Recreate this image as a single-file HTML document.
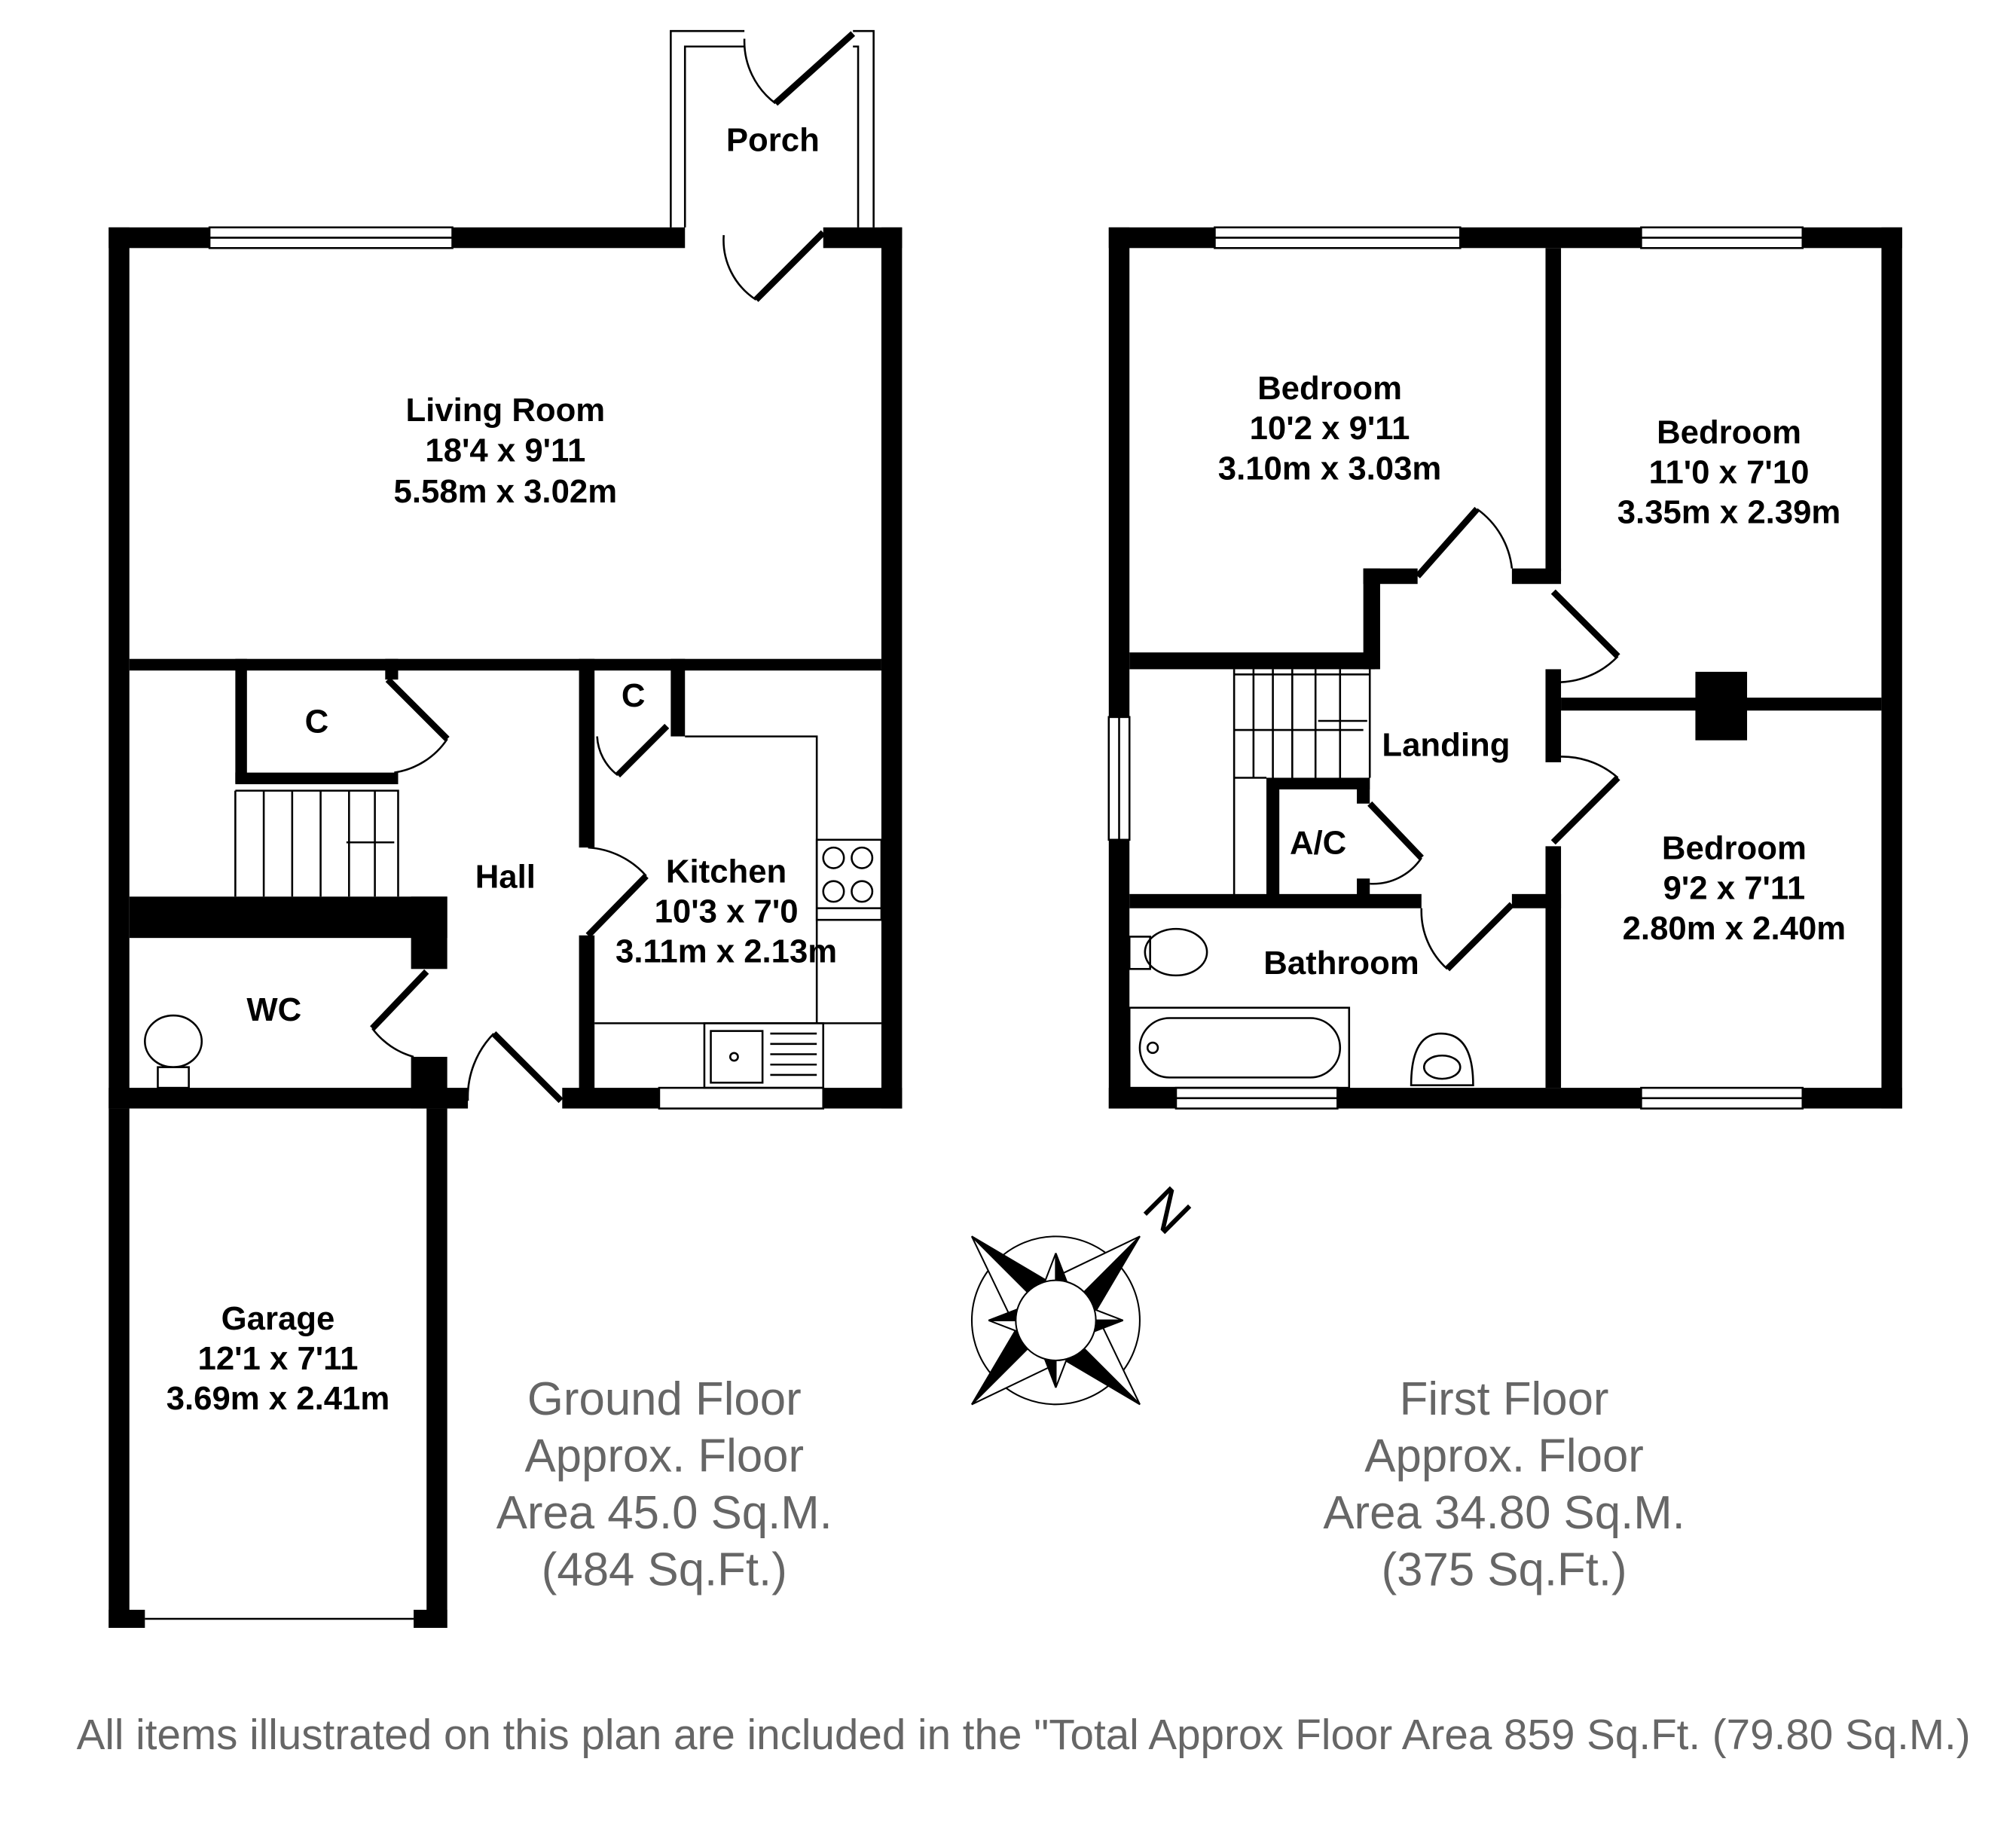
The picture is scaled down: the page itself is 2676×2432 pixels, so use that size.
<!DOCTYPE html>
<html><head><meta charset="utf-8"><style>
html,body{margin:0;padding:0;background:#fff;}
svg{display:block;}
.l{font-family:"Liberation Sans",sans-serif;font-weight:bold;font-size:25.5px;fill:#000;text-anchor:middle;}
.g{font-family:"Liberation Sans",sans-serif;font-size:36px;fill:#666;text-anchor:middle;}
.f{font-family:"Liberation Sans",sans-serif;font-size:33px;fill:#666;text-anchor:middle;}
</style></head><body>
<svg width="2676" height="2432" viewBox="0 0 1560 1418" xmlns="http://www.w3.org/2000/svg">
<defs>
<g id="d"><polygon points="0,-92 -26,-18 0,-26" fill="#fff"/><polygon points="0,-92 18,-22 0,-26" fill="#000"/></g>
<g id="c"><polygon points="0,-52 -10,-26 0,-28" fill="#fff"/><polygon points="0,-52 10,-26 0,-28" fill="#000"/></g>
</defs>
<rect width="1560" height="1418" fill="#fff"/>
<g fill="#000">
<rect x="84" y="176" width="78" height="16"/>
<rect x="350" y="176" width="180" height="16"/>
<rect x="637" y="176" width="61" height="16"/>
<rect x="84" y="176" width="16" height="682"/>
<rect x="682" y="176" width="16" height="682"/>
<rect x="435" y="842" width="75" height="16"/>
<rect x="637" y="842" width="61" height="16"/>
<rect x="84" y="842" width="278" height="16"/>
<rect x="100" y="510" width="582" height="9"/>
<rect x="182" y="510" width="9" height="96"/>
<rect x="182" y="598" width="126" height="9"/>
<rect x="298" y="510" width="10" height="16"/>
<rect x="100" y="694" width="246" height="32"/>
<rect x="318" y="694" width="28" height="56"/>
<rect x="318" y="818" width="28" height="40"/>
<rect x="448" y="510" width="12" height="146"/>
<rect x="448" y="724" width="12" height="126"/>
<rect x="519" y="510" width="11" height="60"/>
<rect x="84" y="858" width="16" height="402"/>
<rect x="330" y="858" width="16" height="402"/>
<rect x="84" y="1246" width="28" height="14"/>
<rect x="320" y="1246" width="26" height="14"/>
<rect x="858" y="176" width="82" height="16"/>
<rect x="1130" y="176" width="140" height="16"/>
<rect x="1395" y="176" width="77" height="16"/>
<rect x="858" y="176" width="16" height="379"/>
<rect x="858" y="650" width="16" height="208"/>
<rect x="1456" y="176" width="16" height="682"/>
<rect x="858" y="842" width="52" height="16"/>
<rect x="1035" y="842" width="235" height="16"/>
<rect x="1395" y="842" width="77" height="16"/>
<rect x="1196" y="192" width="12" height="250"/>
<rect x="1170" y="440" width="38" height="12"/>
<rect x="1196" y="518" width="12" height="72"/>
<rect x="1196" y="655" width="12" height="187"/>
<rect x="1208" y="540" width="248" height="10"/>
<rect x="1312" y="520" width="40" height="53"/>
<rect x="874" y="505" width="190" height="13"/>
<rect x="1055" y="440" width="13" height="78"/>
<rect x="1055" y="440" width="42" height="12"/>
<rect x="980" y="602" width="80" height="9"/>
<rect x="980" y="602" width="10" height="92"/>
<rect x="1050" y="602" width="10" height="20"/>
<rect x="1050" y="680" width="10" height="14"/>
<rect x="874" y="692" width="226" height="11"/>
<rect x="1170" y="692" width="38" height="11"/>
</g>
<g fill="none" stroke="#000" stroke-width="1.5">
<rect x="162" y="176" width="188" height="16"/>
<line x1="162" y1="184" x2="350" y2="184"/>
<rect x="510" y="842" width="127" height="16"/>
<line x1="112" y1="1253" x2="320" y2="1253"/>
<path d="M519 176V24H576M530 176V36H576"/>
<path d="M660 24H676V176M660 36H664V176"/>
<line x1="600" y1="80" x2="660" y2="26" stroke-width="5"/>
<path d="M600 80A60 60 0 0 1 576 30"/>
<line x1="585" y1="232" x2="637" y2="180" stroke-width="5"/>
<path d="M585 232A55 55 0 0 1 560 182"/>
<line x1="300" y1="526" x2="346" y2="572" stroke-width="5"/>
<path d="M346 572A60 60 0 0 1 305 598"/>
<path d="M182 612H308V694M182 612V694"/>
<line x1="204" y1="612" x2="204" y2="694"/><line x1="226" y1="612" x2="226" y2="694"/><line x1="248" y1="612" x2="248" y2="694"/><line x1="270" y1="612" x2="270" y2="694"/><line x1="290" y1="612" x2="290" y2="694"/>
<line x1="305" y1="652" x2="268" y2="652"/>
<line x1="455" y1="724" x2="500" y2="678" stroke-width="5"/>
<path d="M500 678A65 65 0 0 0 455 656"/>
<line x1="330" y1="752" x2="288" y2="796" stroke-width="5"/>
<path d="M288 796A60 60 0 0 0 320 818"/>
<line x1="382" y1="800" x2="434" y2="852" stroke-width="5"/>
<path d="M382 800A70 70 0 0 0 362 852"/>
<line x1="478" y1="600" x2="516" y2="562" stroke-width="5"/>
<path d="M478 600A40 40 0 0 1 462 570"/>
<path d="M530 570H632V792M460 792H682"/>
<rect x="632" y="650" width="50" height="62"/>
<circle cx="645" cy="664" r="8"/><circle cx="667" cy="664" r="8"/><circle cx="645" cy="690" r="8"/><circle cx="667" cy="690" r="8"/>
<line x1="632" y1="703" x2="682" y2="703"/>
<rect x="545" y="792" width="92" height="50"/>
<rect x="550" y="798" width="40" height="40"/>
<path d="M596 800H632M596 808H632M596 816H632M596 824H632M596 832H632"/>
<circle cx="568" cy="818" r="3"/>
<ellipse cx="134" cy="806" rx="22" ry="20"/>
<rect x="122" y="826" width="24" height="16"/>
<rect x="940" y="176" width="190" height="16"/><line x1="940" y1="184" x2="1130" y2="184"/>
<rect x="1270" y="176" width="125" height="16"/><line x1="1270" y1="184" x2="1395" y2="184"/>
<rect x="910" y="842" width="125" height="16"/><line x1="910" y1="850" x2="1035" y2="850"/>
<rect x="1270" y="842" width="125" height="16"/><line x1="1270" y1="850" x2="1395" y2="850"/>
<rect x="858" y="555" width="16" height="95"/><line x1="866" y1="555" x2="866" y2="650"/>
<line x1="1097" y1="446" x2="1143" y2="394" stroke-width="5"/>
<path d="M1143 394A65 65 0 0 1 1170 440"/>
<line x1="1202" y1="458" x2="1252" y2="508" stroke-width="5"/>
<path d="M1252 508A65 65 0 0 1 1202 528"/>
<line x1="1202" y1="652" x2="1252" y2="602" stroke-width="5"/>
<path d="M1252 602A65 65 0 0 0 1202 586"/>
<line x1="1060" y1="622" x2="1100" y2="664" stroke-width="5"/>
<path d="M1100 664A45 45 0 0 1 1060 684"/>
<line x1="1120" y1="750" x2="1170" y2="700" stroke-width="5"/>
<path d="M1120 750A60 60 0 0 1 1100 703"/>
<path d="M955 518V694M1060 518V602"/>
<line x1="955" y1="522" x2="1060" y2="522"/>
<line x1="970" y1="518" x2="970" y2="602"/><line x1="985" y1="518" x2="985" y2="602"/><line x1="1000" y1="518" x2="1000" y2="602"/><line x1="1018" y1="518" x2="1018" y2="602"/><line x1="1037" y1="518" x2="1037" y2="602"/>
<line x1="955" y1="602" x2="980" y2="602"/><line x1="955" y1="565" x2="1055" y2="565"/>
<line x1="1058" y1="558" x2="1020" y2="558"/>
<rect x="874" y="780" width="170" height="62"/>
<rect x="882" y="788" width="155" height="46" rx="23"/>
<circle cx="892" cy="811" r="4"/>
<ellipse cx="910" cy="737" rx="24" ry="18"/>
<rect x="874" y="725" width="16" height="25"/>
<path d="M1092 840 Q1092 800 1115 800 Q1140 800 1140 840Z"/>
<ellipse cx="1116" cy="826" rx="14" ry="9"/>
</g>
<g transform="translate(817,1022)" stroke="#000" stroke-width="1.2">
<circle r="65" fill="none"/>
<use href="#d" transform="rotate(45)"/>
<use href="#d" transform="rotate(135)"/>
<use href="#d" transform="rotate(225)"/>
<use href="#d" transform="rotate(315)"/>
<use href="#c"/>
<use href="#c" transform="rotate(90)"/>
<use href="#c" transform="rotate(180)"/>
<use href="#c" transform="rotate(270)"/>
<circle r="31" fill="#fff"/>
</g>
<text x="903" y="951" font-family="Liberation Sans, sans-serif" font-size="42" text-anchor="middle" transform="rotate(45 903 937)">N</text>
<text class="l" x="598" y="117">Porch</text>
<text class="l" x="391" y="326">Living Room</text>
<text class="l" x="391" y="357">18'4 x 9'11</text>
<text class="l" x="391" y="389">5.58m x 3.02m</text>
<text class="l" x="245" y="567">C</text>
<text class="l" x="490" y="547">C</text>
<text class="l" x="391" y="687">Hall</text>
<text class="l" x="562" y="683">Kitchen</text>
<text class="l" x="562" y="714">10'3 x 7'0</text>
<text class="l" x="562" y="745">3.11m x 2.13m</text>
<text class="l" x="212" y="790">WC</text>
<text class="l" x="215" y="1029">Garage</text>
<text class="l" x="215" y="1060">12'1 x 7'11</text>
<text class="l" x="215" y="1091">3.69m x 2.41m</text>
<text class="l" x="1029" y="309">Bedroom</text>
<text class="l" x="1029" y="340">10'2 x 9'11</text>
<text class="l" x="1029" y="371">3.10m x 3.03m</text>
<text class="l" x="1338" y="343">Bedroom</text>
<text class="l" x="1338" y="374">11'0 x 7'10</text>
<text class="l" x="1338" y="405">3.35m x 2.39m</text>
<text class="l" x="1119" y="585">Landing</text>
<text class="l" x="1020" y="661">A/C</text>
<text class="l" x="1342" y="665">Bedroom</text>
<text class="l" x="1342" y="696">9'2 x 7'11</text>
<text class="l" x="1342" y="727">2.80m x 2.40m</text>
<text class="l" x="1038" y="754">Bathroom</text>
<text class="g" x="514" y="1095">Ground Floor</text>
<text class="g" x="514" y="1139">Approx. Floor</text>
<text class="g" x="514" y="1183">Area 45.0 Sq.M.</text>
<text class="g" x="514" y="1227">(484 Sq.Ft.)</text>
<text class="g" x="1164" y="1095">First Floor</text>
<text class="g" x="1164" y="1139">Approx. Floor</text>
<text class="g" x="1164" y="1183">Area 34.80 Sq.M.</text>
<text class="g" x="1164" y="1227">(375 Sq.Ft.)</text>
<text class="f" x="792" y="1354">All items illustrated on this plan are included in the "Total Approx Floor Area 859 Sq.Ft. (79.80 Sq.M.)</text>
</svg>
</body></html>
